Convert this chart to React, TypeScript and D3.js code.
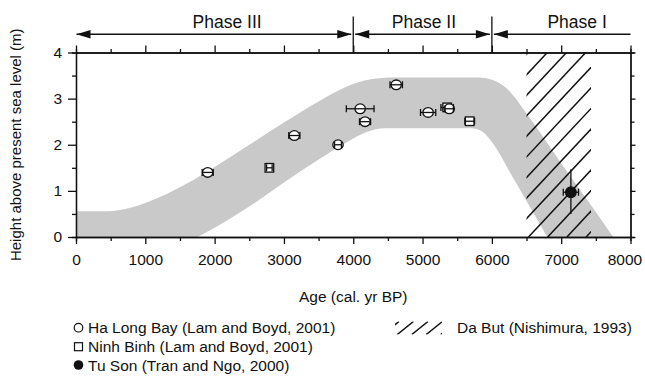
import { useRef, useEffect } from "react"
import * as d3 from "d3"

// axis ticks
const xMajor = [0, 1000, 2000, 3000, 4000, 5000, 6000, 7000, 8000]
const xMinor = [500, 1500, 2500, 3500, 4500, 5500, 6500, 7500]
const yMajor = [0, 1, 2, 3, 4]
const yMinor = [0.5, 1.5, 2.5, 3.5]

// sea-level envelope (age, height)
const bandUpper: [number, number][] = [
  [0, 0.56], [450, 0.56], [800, 0.64], [1200, 0.86], [1600, 1.16], [2000, 1.52],
  [2500, 2.0], [3000, 2.48], [3500, 2.94], [3900, 3.26], [4250, 3.42], [4600, 3.46],
  [5800, 3.46], [6000, 3.41], [6200, 3.24], [6500, 2.68], [7000, 1.6], [7500, 0.54], [7750, 0],
]
const bandLower: [number, number][] = [
  [1750, 0], [2000, 0.2], [2500, 0.66], [3000, 1.18], [3500, 1.68], [3900, 2.05],
  [4200, 2.28], [4450, 2.36], [5700, 2.36], [5850, 2.3], [6000, 2.06], [6300, 1.3],
  [6550, 0.65], [6800, 0],
]

// Ha Long Bay (Lam and Boyd, 2001): age, height, age error
const haLongAge = [1900, 3150, 3780, 4100, 4170, 4620, 5080, 5385]
const haLongHeight = [1.4, 2.2, 2.0, 2.78, 2.5, 3.3, 2.7, 2.78]
const haLongErr = [80, 80, 50, 200, 80, 90, 110, 60]

// Ninh Binh (Lam and Boyd, 2001)
const ninhBinhAge = [2790, 5355, 5680]
const ninhBinhHeight = [1.5, 2.81, 2.51]
const ninhBinhErr = [40, 90, 70]

// Tu Son (Tran and Ngo, 2000)
const tuSonAge = [7140]
const tuSonHeight = [0.97]
const tuSonErr = [110]
const tuSonLow = [0.5]
const tuSonHigh = [1.47]

// Da But (Nishimura, 1993) age range
const daButRange = [6500, 7430]

// phases
const phaseNames = ["Phase III", "Phase II", "Phase I"]
const phaseStart = [0, 4000, 6000]
const phaseEnd = [4000, 6000, 8000]
const phaseLabelAge = [2180, 5020, 7230]
const phaseDividers = [4000, 6000]

const legendLeft = [
  "Ha Long Bay (Lam and Boyd, 2001)",
  "Ninh Binh (Lam and Boyd, 2001)",
  "Tu Son (Tran and Ngo, 2000)",
]
const legendRight = "Da But (Nishimura, 1993)"

export default function App() {
  const svgRef = useRef<SVGSVGElement | null>(null)

  useEffect(() => {
    if (!svgRef.current) return
    const svg = d3.select(svgRef.current)
    svg.selectAll("*").remove()

    const font = "'Liberation Sans', Arial, Helvetica, sans-serif"
    const x = d3.scaleLinear().domain([0, 8000]).range([76, 630.5])
    const y = d3.scaleLinear().domain([0, 4]).range([237, 52.5])
    const gray = "#c9c9c9"
    const fmt = d3.format("d")

    const defs = svg.append("defs")
    defs
      .append("clipPath")
      .attr("id", "hatch-clip")
      .append("rect")
      .attr("x", x(daButRange[0]))
      .attr("y", y(4))
      .attr("width", x(daButRange[1]) - x(daButRange[0]))
      .attr("height", y(0) - y(4))

    // envelope: gray under upper curve, white under lower curve
    const envArea = d3
      .area<[number, number]>()
      .x((d) => x(d[0]))
      .y0(y(0))
      .y1((d) => y(d[1]))
      .curve(d3.curveMonotoneX)
    svg.append("path").datum(bandUpper).attr("fill", gray).attr("d", envArea)
    svg.append("path").datum(bandLower).attr("fill", "white").attr("d", envArea)

    // Da But hatch
    const hx0 = x(daButRange[0])
    const hx1 = x(daButRange[1])
    const top = y(4)
    const bottom = y(0)
    const slope = 1.07
    const spacing = 19.2
    const hatch = svg.append("g").attr("clip-path", "url(#hatch-clip)")
    for (let xs = hx0 + 1.6; xs < hx1 + (bottom - top) / slope + spacing; xs += spacing) {
      hatch
        .append("line")
        .attr("x1", xs)
        .attr("y1", top)
        .attr("x2", xs - (bottom - top) / slope)
        .attr("y2", bottom)
        .attr("stroke", "#111")
        .attr("stroke-width", 1.5)
    }

    // axes
    const axisStyle = (g: d3.Selection<SVGGElement, unknown, null, undefined>) => {
      g.selectAll("path").attr("stroke", "#111").attr("stroke-width", 1.3)
      g.selectAll("line").attr("stroke", "#111").attr("stroke-width", 1.3)
      g.selectAll("text").attr("fill", "#111").attr("font-size", 15.5).attr("font-family", font)
    }
    const bottomG = svg.append("g").attr("transform", `translate(0,${y(0)})`)
    const xLabels = bottomG
      .append("g")
      .call(d3.axisBottom(x).tickValues(xMajor).tickSize(7).tickSizeOuter(0).tickPadding(9.5).tickFormat((d) => fmt(d as number)))
      .call(axisStyle)
    bottomG.append("g").call(d3.axisBottom(x).tickValues(xMinor).tickSize(4).tickFormat(() => "")).call(axisStyle)

    // keep the last tick label inside the window
    xLabels.selectAll<SVGTextElement, number>("text").each(function () {
      const node = this as SVGTextElement
      const box = node.getBBox()
      const tx = x(d3.select(node).datum() as number)
      const overflow = tx + box.x + box.width - 642
      if (overflow > 0) d3.select(node).attr("x", -overflow)
    })

    const topG = svg.append("g").attr("transform", `translate(0,${y(4)})`)
    topG.append("g").call(d3.axisTop(x).tickValues(xMajor).tickSize(7).tickSizeOuter(0).tickFormat(() => "")).call(axisStyle)
    topG.append("g").call(d3.axisTop(x).tickValues(xMinor).tickSize(3.5).tickFormat(() => "")).call(axisStyle)

    const leftG = svg.append("g").attr("transform", `translate(${x(0)},0)`)
    leftG
      .append("g")
      .call(d3.axisLeft(y).tickValues(yMajor).tickSize(8).tickSizeOuter(0).tickPadding(6).tickFormat((d) => fmt(d as number)))
      .call(axisStyle)
    leftG.append("g").call(d3.axisLeft(y).tickValues(yMinor).tickSize(4).tickFormat(() => "")).call(axisStyle)

    const rightG = svg.append("g").attr("transform", `translate(${x(8000)},0)`)
    rightG.append("g").call(d3.axisRight(y).tickValues(yMajor).tickSize(5).tickSizeOuter(0).tickFormat(() => "")).call(axisStyle)
    rightG.append("g").call(d3.axisRight(y).tickValues(yMinor).tickSize(4).tickFormat(() => "")).call(axisStyle)

    // axis titles
    svg
      .append("text")
      .attr("x", x(4000))
      .attr("y", 302)
      .attr("text-anchor", "middle")
      .attr("font-family", font)
      .attr("font-size", 15.5)
      .attr("fill", "#111")
      .text("Age (cal. yr BP)")
    svg
      .append("text")
      .attr("transform", `translate(20.5,${(y(0) + y(4)) / 2}) rotate(-90)`)
      .attr("text-anchor", "middle")
      .attr("font-family", font)
      .attr("font-size", 15)
      .attr("fill", "#111")
      .text("Height above present sea level (m)")

    // phases
    const arrowY = 34.3
    const head = (px: number, dir: number) =>
      `M${px},${arrowY} L${px + dir * 14},${arrowY - 4.3} L${px + dir * 14},${arrowY + 4.3} Z`
    phaseDividers.forEach((a) => {
      svg
        .append("line")
        .attr("x1", x(a))
        .attr("x2", x(a))
        .attr("y1", 16.5)
        .attr("y2", y(4))
        .attr("stroke", "#111")
        .attr("stroke-width", 1.3)
    })
    phaseNames.forEach((name, i) => {
      const xs = x(phaseStart[i]) + (i === 0 ? 0.5 : 2)
      const xe = x(phaseEnd[i]) - (i === 2 ? 0 : 2)
      svg
        .append("line")
        .attr("x1", xs)
        .attr("x2", xe)
        .attr("y1", arrowY)
        .attr("y2", arrowY)
        .attr("stroke", "#111")
        .attr("stroke-width", 1.5)
      svg.append("path").attr("d", head(xs, 1)).attr("fill", "#111")
      if (i < 2) svg.append("path").attr("d", head(xe, -1)).attr("fill", "#111")
      svg
        .append("text")
        .attr("x", x(phaseLabelAge[i]))
        .attr("y", 28.3)
        .attr("text-anchor", "middle")
        .attr("font-family", font)
        .attr("font-size", 17.5)
        .attr("fill", "#111")
        .text(name)
    })

    // error bar helper
    const hBar = (g: d3.Selection<SVGGElement, unknown, null, undefined>, a: number, h: number, e: number) => {
      const cy = y(h)
      g.append("line").attr("x1", x(a - e)).attr("x2", x(a + e)).attr("y1", cy).attr("y2", cy)
      g.append("line").attr("x1", x(a - e)).attr("x2", x(a - e)).attr("y1", cy - 3.5).attr("y2", cy + 3.5)
      g.append("line").attr("x1", x(a + e)).attr("x2", x(a + e)).attr("y1", cy - 3.5).attr("y2", cy + 3.5)
    }

    const pts = svg.append("g").attr("stroke", "#111").attr("stroke-width", 1.3)

    // Ninh Binh squares
    ninhBinhAge.forEach((a, i) => {
      const g = pts.append("g")
      g.append("rect")
        .attr("x", x(a) - 4.3)
        .attr("y", y(ninhBinhHeight[i]) - 4.3)
        .attr("width", 8.6)
        .attr("height", 8.6)
        .attr("fill", "white")
      hBar(g, a, ninhBinhHeight[i], ninhBinhErr[i])
    })

    // Ha Long Bay circles
    haLongAge.forEach((a, i) => {
      const g = pts.append("g")
      g.append("ellipse")
        .attr("cx", x(a))
        .attr("cy", y(haLongHeight[i]))
        .attr("rx", 5.2)
        .attr("ry", 4.8)
        .attr("fill", "white")
      hBar(g, a, haLongHeight[i], haLongErr[i])
    })

    // Tu Son
    tuSonAge.forEach((a, i) => {
      const g = pts.append("g")
      g.append("line")
        .attr("x1", x(a))
        .attr("x2", x(a))
        .attr("y1", y(tuSonLow[i]))
        .attr("y2", y(tuSonHigh[i]))
      hBar(g, a, tuSonHeight[i], tuSonErr[i])
      g.append("circle").attr("cx", x(a)).attr("cy", y(tuSonHeight[i])).attr("r", 5.3).attr("fill", "#111")
    })

    // legend
    const rows = [327.7, 346.7, 365]
    const lg = svg.append("g")
    lg.append("circle").attr("cx", 78.5).attr("cy", rows[0]).attr("r", 4.3).attr("fill", "white").attr("stroke", "#111").attr("stroke-width", 1.2)
    lg.append("rect").attr("x", 74.5).attr("y", rows[1] - 4).attr("width", 8).attr("height", 8).attr("fill", "white").attr("stroke", "#111").attr("stroke-width", 1.2)
    lg.append("circle").attr("cx", 78.5).attr("cy", rows[2]).attr("r", 4.8).attr("fill", "#111")
    legendLeft.forEach((t, i) => {
      lg.append("text")
        .attr("x", 88)
        .attr("y", rows[i])
        .attr("dy", "0.36em")
        .attr("font-family", font)
        .attr("font-size", 15.5)
        .attr("fill", "#111")
        .text(t)
    })
    defs
      .append("clipPath")
      .attr("id", "legend-hatch")
      .append("rect")
      .attr("x", 395)
      .attr("y", 321.5)
      .attr("width", 47)
      .attr("height", 13)
    const lh = lg.append("g").attr("clip-path", "url(#legend-hatch)")
    for (let xs = 399; xs < 470; xs += 14.5) {
      lh.append("line")
        .attr("x1", xs)
        .attr("y1", 321.5)
        .attr("x2", xs - 13 / 0.8)
        .attr("y2", 334.5)
        .attr("stroke", "#111")
        .attr("stroke-width", 1.5)
    }
    lg.append("text")
      .attr("x", 457)
      .attr("y", rows[0])
      .attr("dy", "0.36em")
      .attr("font-family", font)
      .attr("font-size", 15.5)
      .attr("fill", "#111")
      .text(legendRight)
  }, [])

  return (
    <svg
      ref={svgRef}
      width={645}
      height={380}
      style={{ position: "absolute", left: 0, top: 0, background: "white" }}
    ></svg>
  )
}
